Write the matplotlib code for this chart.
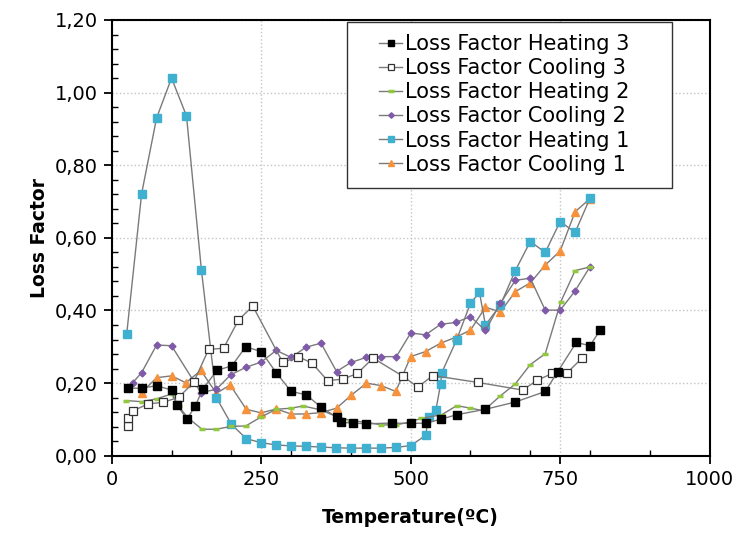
import matplotlib

matplotlib.use("Agg")
import matplotlib.pyplot as plt
from matplotlib.patches import Rectangle
from matplotlib.ticker import FuncFormatter, MultipleLocator

# values (temperature in ºC, loss factor)
heat3_t = [28, 50, 75, 100, 109, 126, 140, 152, 176, 201, 224, 250, 275, 300, 325,
           350, 376, 384, 404, 426, 469, 500, 526, 551, 577, 625, 675, 725, 746,
           777, 800, 817]
heat3_lf = [0.186, 0.186, 0.193, 0.181, 0.14, 0.101, 0.138, 0.183, 0.235, 0.248,
            0.30, 0.287, 0.229, 0.177, 0.168, 0.134, 0.106, 0.092, 0.09, 0.088,
            0.09, 0.089, 0.09, 0.101, 0.113, 0.128, 0.148, 0.177, 0.232, 0.312,
            0.303, 0.347]

cool3_t = [28, 28, 36, 61, 86, 112, 137, 162, 187, 212, 236, 286, 312, 335, 361,
           387, 411, 437, 487, 512, 537, 612, 687, 712, 737, 762, 786]
cool3_lf = [0.081, 0.104, 0.124, 0.143, 0.147, 0.161, 0.202, 0.293, 0.296, 0.374,
            0.412, 0.257, 0.273, 0.255, 0.207, 0.211, 0.227, 0.269, 0.219, 0.189,
            0.221, 0.202, 0.181, 0.208, 0.227, 0.229, 0.268]

heat2_t = [24, 50, 75, 100, 112, 127, 151, 175, 200, 224, 250, 275, 300, 320, 348,
           376, 399, 426, 451, 476, 498, 518, 552, 577, 600, 622, 650, 675, 700,
           725, 751, 775, 800]
heat2_lf = [0.152, 0.149, 0.157, 0.17, 0.136, 0.105, 0.073, 0.073, 0.081, 0.082,
            0.107, 0.128, 0.131, 0.137, 0.127, 0.108, 0.097, 0.092, 0.085, 0.085,
            0.093, 0.103, 0.113, 0.138, 0.131, 0.124, 0.165, 0.198, 0.251, 0.281,
            0.424, 0.51, 0.52]

cool2_t = [28, 35, 50, 75, 100, 149, 175, 199, 225, 250, 275, 300, 325, 350, 376,
           400, 426, 451, 476, 500, 525, 550, 575, 600, 625, 650, 675, 700, 725,
           750, 775, 800]
cool2_lf = [0.186, 0.201, 0.229, 0.305, 0.303, 0.174, 0.183, 0.223, 0.244, 0.258,
            0.29, 0.271, 0.299, 0.31, 0.232, 0.257, 0.271, 0.273, 0.273, 0.338,
            0.333, 0.362, 0.367, 0.383, 0.345, 0.42, 0.483, 0.489, 0.401, 0.401,
            0.454, 0.521]

heat1_t = [25, 50, 75, 100, 125, 150, 175, 200, 225, 250, 275, 300, 325, 350, 375,
           400, 425, 450, 475, 500, 525, 530, 542, 550, 552, 577, 600, 615, 625,
           650, 675, 700, 725, 750, 775, 800]
heat1_lf = [0.335, 0.722, 0.93, 1.04, 0.936, 0.511, 0.16, 0.087, 0.047, 0.036,
            0.03, 0.027, 0.026, 0.024, 0.022, 0.021, 0.021, 0.021, 0.023, 0.028,
            0.056, 0.108, 0.125, 0.197, 0.229, 0.32, 0.42, 0.45, 0.36, 0.415,
            0.51, 0.59, 0.56, 0.645, 0.615, 0.71]

cool1_t = [50, 75, 100, 124, 149, 175, 198, 225, 250, 275, 300, 325, 350, 376, 400,
           426, 451, 475, 500, 525, 550, 575, 600, 625, 650, 675, 700, 725, 750,
           775, 800]
cool1_lf = [0.174, 0.215, 0.22, 0.201, 0.235, 0.172, 0.195, 0.128, 0.118, 0.129,
            0.115, 0.115, 0.119, 0.131, 0.166, 0.2, 0.193, 0.177, 0.273, 0.287,
            0.31, 0.326, 0.346, 0.409, 0.396, 0.452, 0.476, 0.525, 0.564, 0.672,
            0.708]

line_grey = "#7a7a7a"

fig = plt.figure(figsize=(7.4, 5.4), dpi=100)
ax = fig.add_axes([0.151, 0.156, 0.808, 0.807])

# drawn bottom-up, legend listed top-down
series = [
    ("Loss Factor Cooling 1", cool1_t, cool1_lf,
     dict(marker="^", ms=5.5, mfc="#f7923c", mec="#f7923c")),
    ("Loss Factor Heating 1", heat1_t, heat1_lf,
     dict(marker="s", ms=5.5, mfc="#3fb0cf", mec="#3fb0cf")),
    ("Loss Factor Cooling 2", cool2_t, cool2_lf,
     dict(marker="D", ms=3.5, mfc="#7f5aa8", mec="#7f5aa8")),
    ("Loss Factor Heating 2", heat2_t, heat2_lf,
     dict(marker="_", ms=5, mew=2.5, mfc="#92c83e", mec="#92c83e")),
    ("Loss Factor Cooling 3", cool3_t, cool3_lf,
     dict(marker="s", ms=6.2, mfc="white", mec="#333333", mew=0.9)),
    ("Loss Factor Heating 3", heat3_t, heat3_lf,
     dict(marker="s", ms=6.2, mfc="black", mec="black")),
]

handles = []
for label, t, lf, style in series:
    (ln,) = ax.plot(t, lf, color=line_grey, lw=1.0, label=label, zorder=3, **style)
    handles.append(ln)
handles = handles[::-1]

ax.set_xlim(0, 1000)
ax.set_ylim(0, 1.2)
ax.xaxis.set_major_locator(MultipleLocator(250))
ax.xaxis.set_minor_locator(MultipleLocator(100))
ax.yaxis.set_major_locator(MultipleLocator(0.2))
ax.yaxis.set_minor_locator(MultipleLocator(0.04))
ax.yaxis.set_major_formatter(FuncFormatter(lambda v, p: f"{v:.2f}".replace(".", ",")))

ax.tick_params(which="major", direction="out", length=6, width=1.3, labelsize=14, pad=4)
ax.tick_params(which="minor", direction="in", length=4, width=1.0)

ax.grid(True, which="major", linestyle=":", color="#c4c4c4", lw=1.0, zorder=0)
ax.set_axisbelow(True)
for s in ax.spines.values():
    s.set_linewidth(1.5)
    s.set_color("black")

ax.set_xlabel("Temperature(ºC)", fontsize=13.5, fontweight="bold", labelpad=14)
ax.set_ylabel("Loss Factor", fontsize=13.5, fontweight="bold", labelpad=4)

# legend box
ax.add_patch(Rectangle((0.393, 0.615), 0.544, 0.381, transform=ax.transAxes,
                       facecolor="white", edgecolor="#333333", lw=1.0, zorder=5))
leg = ax.legend(handles, [h.get_label() for h in handles], loc="upper left",
                bbox_to_anchor=(0.43, 0.992), frameon=False, fontsize=15,
                borderpad=0, handlelength=1.1, handletextpad=0.15,
                labelspacing=0.2, markerscale=0.8)
leg.set_zorder(6)

fig.savefig("out.png", dpi=100)
